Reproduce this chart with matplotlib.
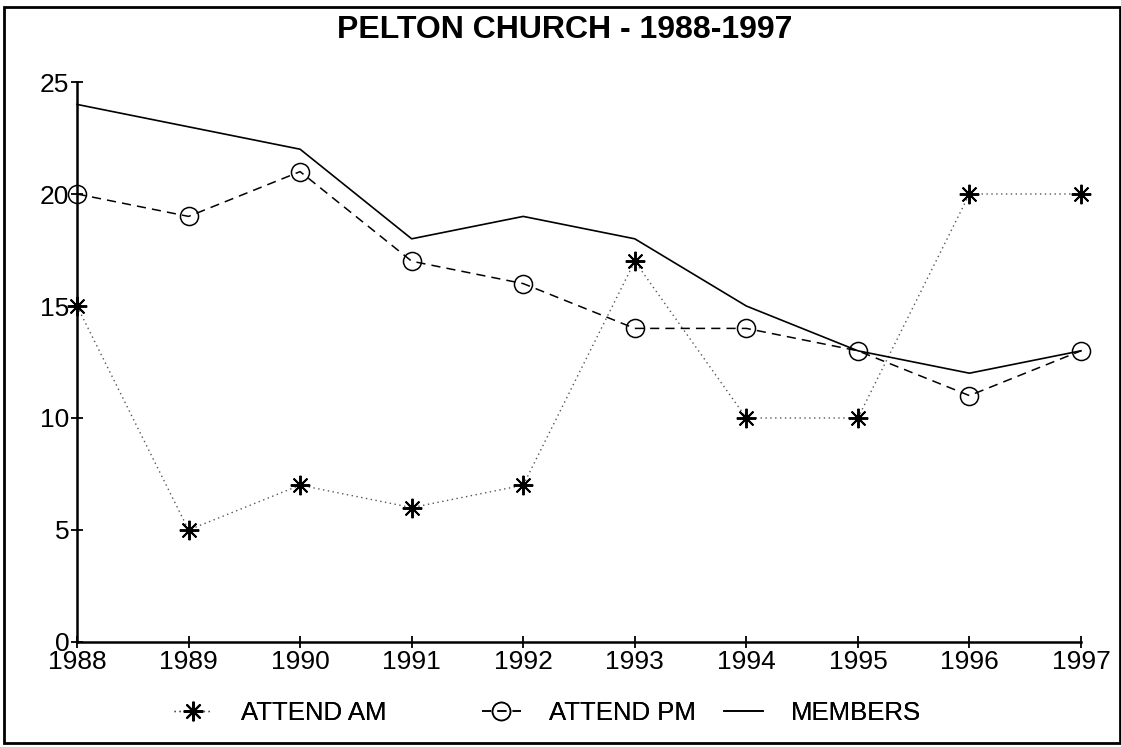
import matplotlib.pyplot as plt
from matplotlib.patches import Rectangle

plt.rcParams['font.family'] = ['Liberation Sans', 'DejaVu Sans']

years = [1988, 1989, 1990, 1991, 1992, 1993, 1994, 1995, 1996, 1997]
attend_am = [15, 5, 7, 6, 7, 17, 10, 10, 20, 20]
attend_pm = [20, 19, 21, 17, 16, 14, 14, 13, 11, 13]
members = [24, 23, 22, 18, 19, 18, 15, 13, 12, 13]
y_ticks = [0, 5, 10, 15, 20, 25]

fig = plt.figure(figsize=(11.21, 7.47), dpi=100)
ax = fig.add_axes([0.0687, 0.1406, 0.8956, 0.7496])

l_am, = ax.plot(years, attend_am, color='#555555', linestyle=(0, (1, 2.5)), linewidth=1.0,
                marker=(8, 2, 0), markersize=14, markeredgecolor='black', markeredgewidth=1.4,
                label='ATTEND AM', clip_on=False)
l_pm, = ax.plot(years, attend_pm, color='black', linestyle=(0, (6, 4)), linewidth=1.1,
                marker='o', markersize=13, markerfacecolor='none', markeredgecolor='black',
                markeredgewidth=1.1, label='ATTEND PM', clip_on=False)
l_mem, = ax.plot(years, members, color='black', linestyle='-', linewidth=1.2,
                 label='MEMBERS', clip_on=False)

ax.set_xlim(1988, 1997)
ax.set_ylim(0, 25)
ax.set_xticks(years)
ax.set_yticks(y_ticks)
ax.tick_params(direction='inout', length=9, width=1.3, labelsize=19, pad=1)
for s in ['top', 'right']:
    ax.spines[s].set_visible(False)
for s in ['left', 'bottom']:
    ax.spines[s].set_linewidth(1.8)

fig.text(0.504, 0.96, 'PELTON CHURCH - 1988-1997', ha='center', va='center',
         fontsize=23, fontweight='bold')

# one legend per entry so the uneven gaps of the original can be matched
for line, x0 in [(l_am, 0.155), (l_pm, 0.430), (l_mem, 0.646)]:
    leg = fig.legend([line], [line.get_label()], loc='center left',
                     bbox_to_anchor=(x0, 0.045), frameon=False, fontsize=18.5,
                     handlelength=1.5, handletextpad=1.1, borderaxespad=0, borderpad=0)
    fig.add_artist(leg)

fig.patches.append(Rectangle((0.004, 0.005), 0.995, 0.986, transform=fig.transFigure,
                             fill=False, edgecolor='black', linewidth=2))

fig.savefig('out.png', dpi=100)
